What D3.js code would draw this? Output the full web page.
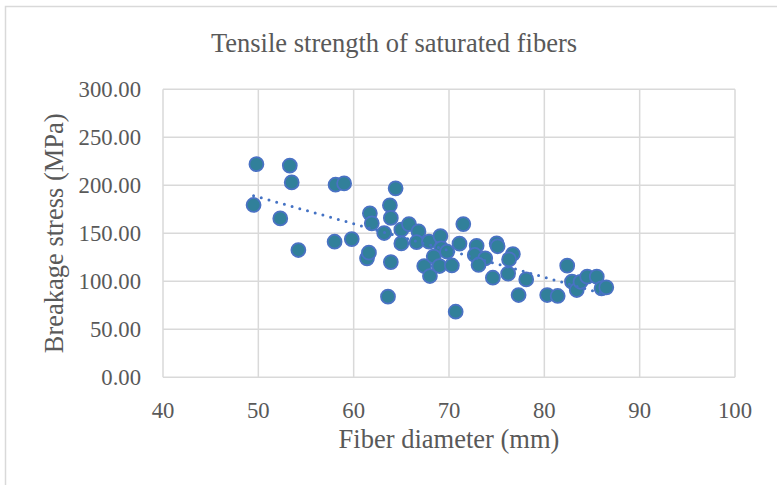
<!DOCTYPE html>
<html>
<head>
<meta charset="utf-8">
<script src="https://cdn.jsdelivr.net/npm/d3@7"></script>
<style>
  html, body { margin: 0; padding: 0; background: #ffffff; }
  svg text { font-family: "Liberation Serif", "Times New Roman", serif; fill: #595959; }
</style>
</head>
<body>
<svg id="chart" width="777" height="485"></svg>
<script>
// ---- data ----
const diameter = [49.5, 49.8, 52.3, 53.3, 53.5, 54.2, 58.1, 59.0, 58.0, 59.8,
  64.4, 63.8, 63.9, 61.7, 61.9, 61.4, 61.6, 63.9, 63.6, 63.2,
  65.0, 65.8, 66.8, 65.0, 66.6, 67.4, 68.0, 67.9, 69.1, 69.2,
  69.8, 68.4, 69.0, 70.3, 71.1, 71.5, 70.7, 72.9, 72.7, 73.8,
  73.1, 75.0, 75.1, 76.7, 76.3, 76.2, 74.6, 78.1, 77.3, 80.3,
  81.4, 82.4, 82.9, 83.4, 83.8, 84.5, 85.5, 86.0, 86.5];
const stress = [179.5, 222.0, 165.5, 220.5, 203.0, 132.6, 200.6, 202.0, 141.2, 144.0,
  196.8, 179.2, 166.0, 170.8, 160.4, 123.9, 129.8, 120.0, 84.0, 150.3,
  153.8, 159.6, 152.0, 139.5, 140.7, 115.9, 105.5, 141.2, 147.1, 134.3,
  130.8, 125.8, 115.9, 116.5, 139.2, 159.6, 68.3, 137.0, 127.4, 123.9,
  117.0, 139.5, 136.5, 128.4, 122.8, 108.0, 103.7, 102.0, 85.7, 85.7,
  84.7, 116.3, 99.6, 90.9, 99.5, 104.8, 104.8, 92.7, 93.7];
const xTicks = [40, 50, 60, 70, 80, 90, 100];
const yTicks = [0, 50, 100, 150, 200, 250, 300];
const titleText = "Tensile strength of saturated fibers";
const xTitle = "Fiber diameter (mm)";
const yTitle = "Breakage stress (MPa)";

// ---- layout ----
const svg = d3.select("#chart");
const plot = { left: 163, right: 735, top: 89.3, bottom: 377.3 };
const x = d3.scaleLinear().domain([40, 100]).range([plot.left, plot.right]);
const y = d3.scaleLinear().domain([0, 300]).range([plot.bottom, plot.top]);
const grid = "#d9d9d9";

// chart border
svg.append("rect").attr("x", 5.5).attr("y", 6.5).attr("width", 800).attr("height", 500)
  .attr("fill", "#fff").attr("stroke", grid).attr("stroke-width", 1.5);

// gridlines
svg.append("g").selectAll("line").data(xTicks).join("line")
  .attr("x1", d => x(d)).attr("x2", d => x(d))
  .attr("y1", plot.top).attr("y2", plot.bottom)
  .attr("stroke", grid).attr("stroke-width", 1.5);
svg.append("g").selectAll("line").data(yTicks).join("line")
  .attr("x1", plot.left).attr("x2", plot.right)
  .attr("y1", d => y(d)).attr("y2", d => y(d))
  .attr("stroke", grid).attr("stroke-width", 1.5);

// tick labels
svg.append("g").selectAll("text").data(xTicks).join("text")
  .attr("x", d => x(d)).attr("y", 418)
  .attr("text-anchor", "middle").attr("font-size", 22.7)
  .text(d => d);
svg.append("g").selectAll("text").data(yTicks).join("text")
  .attr("x", 141).attr("y", d => y(d)).attr("dy", "0.34em")
  .attr("text-anchor", "end").attr("font-size", 22.7)
  .text(d => d3.format(".2f")(d));

// titles
svg.append("text").attr("x", 394).attr("y", 52).attr("text-anchor", "middle")
  .attr("font-size", 26.5).text(titleText);
svg.append("text").attr("x", (plot.left + plot.right) / 2).attr("y", 448)
  .attr("text-anchor", "middle").attr("font-size", 26.5).text(xTitle);
svg.append("text").attr("transform", `translate(63,${(plot.top + plot.bottom) / 2}) rotate(-90)`)
  .attr("text-anchor", "middle").attr("font-size", 26.5).text(yTitle);

// points
const pts = diameter.map((d, i) => ({ x: d, y: stress[i] }));
svg.append("g").selectAll("circle").data(pts).join("circle")
  .attr("cx", d => x(d.x)).attr("cy", d => y(d.y)).attr("r", 7)
  .attr("fill", "#31809a").attr("stroke", "#4a72c4").attr("stroke-width", 1.75);

// linear trendline (least squares)
const n = pts.length;
const mx = d3.mean(diameter), my = d3.mean(stress);
let sxy = 0, sxx = 0;
pts.forEach(p => { sxy += (p.x - mx) * (p.y - my); sxx += (p.x - mx) * (p.x - mx); });
const slope = sxy / sxx, intercept = my - slope * mx;
const x0 = d3.min(diameter), x1 = d3.max(diameter);
svg.append("line")
  .attr("x1", x(x0)).attr("y1", y(intercept + slope * x0))
  .attr("x2", x(x1)).attr("y2", y(intercept + slope * x1))
  .attr("stroke", "#4472c4").attr("stroke-width", 3)
  .attr("stroke-linecap", "round").attr("stroke-dasharray", "0,8");
</script>
</body>
</html>
